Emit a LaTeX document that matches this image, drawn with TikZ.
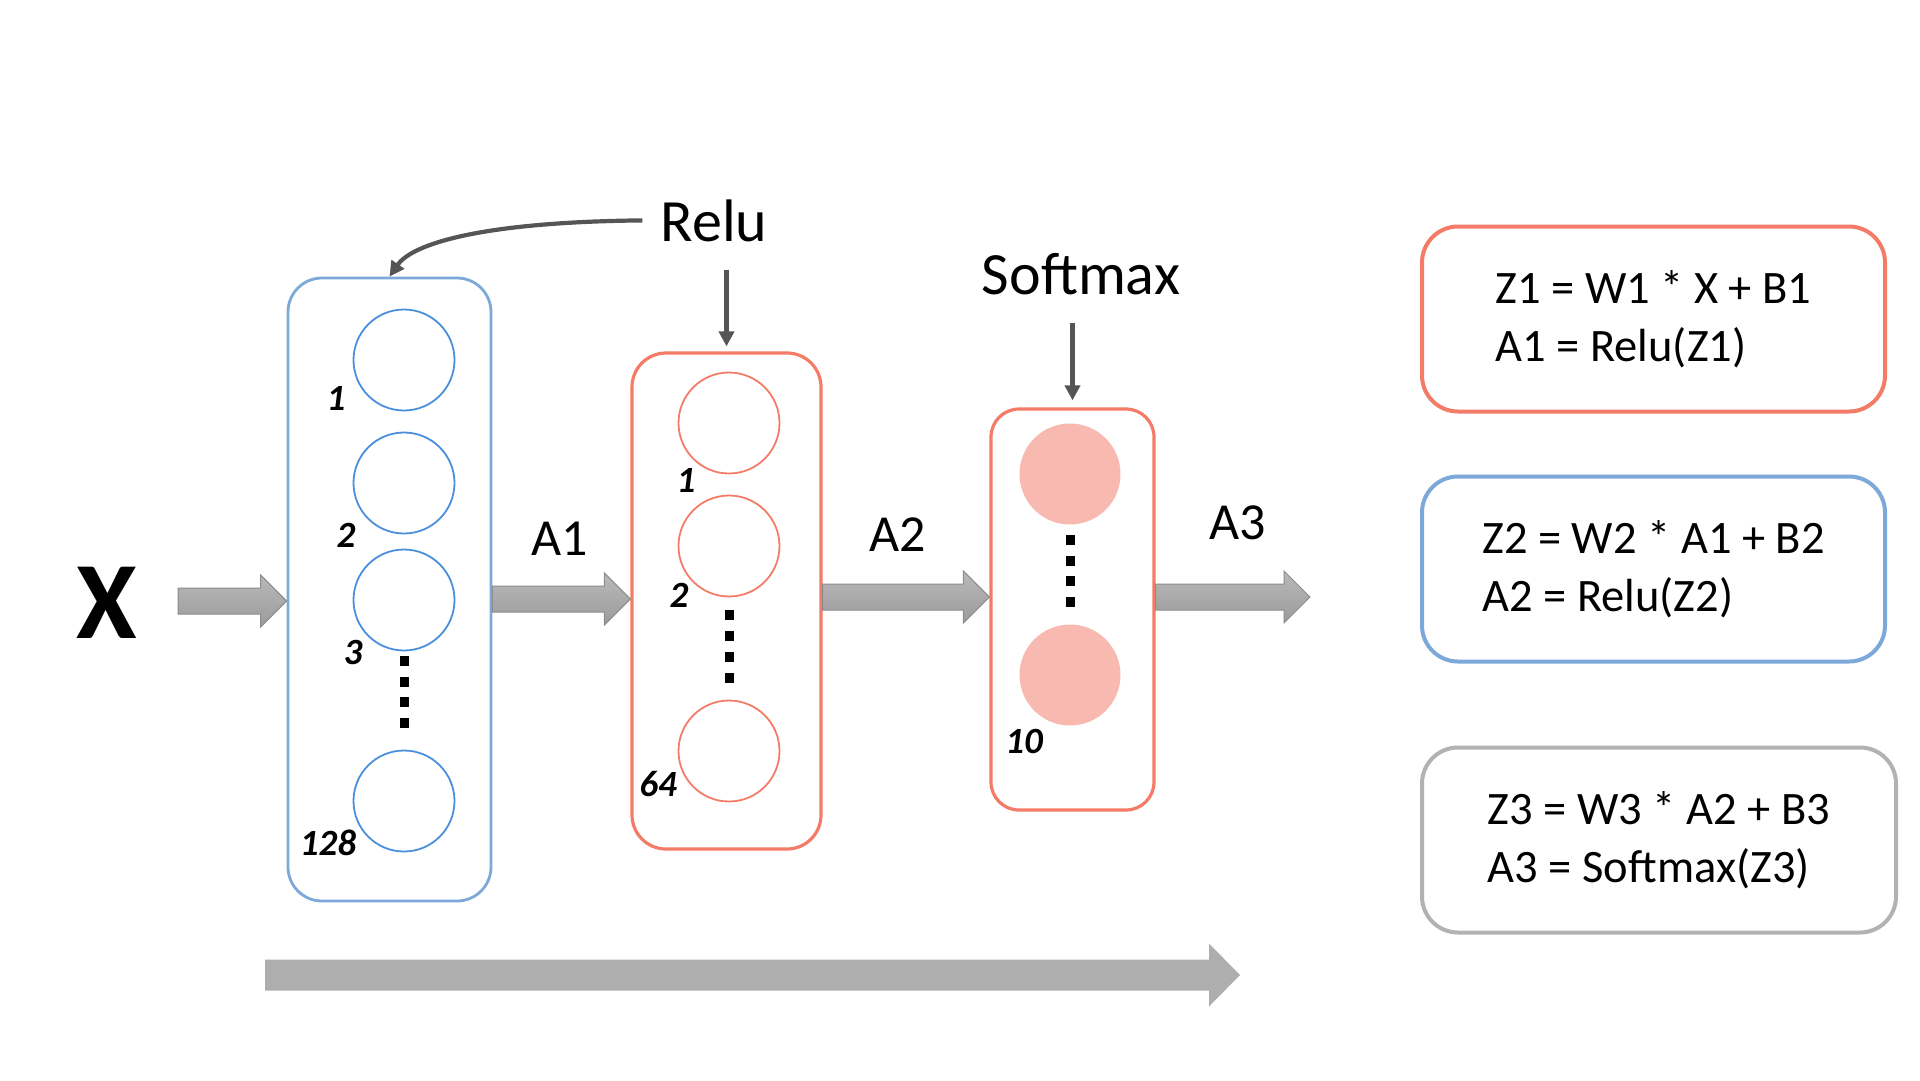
\documentclass[tikz,border=0pt]{standalone}
\usepackage{fontspec}
\setmainfont{Carlito}
\usetikzlibrary{arrows.meta,positioning,calc}

\definecolor{layerblue}{HTML}{7DA8DA}
\definecolor{nodeblue}{HTML}{4A8FDC}
\definecolor{layerred}{HTML}{F47B67}
\definecolor{softfill}{HTML}{F8BAB0}
\definecolor{notegray}{HTML}{555555}
\definecolor{boxgray}{HTML}{B2B2B2}
\definecolor{arrtop}{HTML}{B8B9B8}
\definecolor{arrbot}{HTML}{9A9B9A}
\definecolor{arredge}{HTML}{8C8C8C}
\definecolor{flowgray}{HTML}{ADAEAD}

% block arrow: start node, tip node, height of the axis
\newcommand{\blockarrow}[3]{%
  \path[blockarr] let \p1=(#1), \p2=(#2), \p3=(0,#3) in
    (\x1,\y3+13pt) -- (\x2-26pt,\y3+13pt) -- (\x2-26pt,\y3+26pt) -- (\x2,\y3)
    -- (\x2-26pt,\y3-26pt) -- (\x2-26pt,\y3-13pt) -- (\x1,\y3-13pt) -- cycle;}

\begin{document}
\begin{tikzpicture}[
    x=1pt, y=-1pt,
    layer/.style={rectangle,rounded corners=34pt,line width=2.8pt,inner sep=0pt},
    neuron/.style={circle,draw=nodeblue,line width=1.8pt,minimum size=101pt,inner sep=0pt},
    outnode/.style={circle,fill=softfill,minimum size=101pt,inner sep=0pt},
    idx/.style={font=\fontsize{37}{37}\selectfont\bfseries\itshape,inner sep=0pt},
    title/.style={font=\fontsize{60}{60}\selectfont,inner sep=0pt,anchor=base},
    alabel/.style={font=\fontsize{52}{52}\selectfont,inner sep=0pt,anchor=base},
    eqbox/.style={rectangle,rounded corners=36pt,line width=4pt,align=left,
        minimum width=463pt,minimum height=185pt,font=\fontsize{46.5}{57.5}\selectfont},
    blockarr/.style={draw=arredge,line width=1pt,top color=arrtop,bottom color=arrbot},
    pointer/.style={draw=notegray,line width=4.2pt,-{Triangle[length=15pt,width=15pt]}}
]
\useasboundingbox (0,0) rectangle (1920,1080);

% Layers
\node[layer,draw=layerblue,minimum width=203pt,minimum height=623pt] (L1) at (389.5,589.5) {};
\node[layer,draw=layerred,line width=3.2pt,minimum width=189pt,minimum height=496pt] (L2) at (726.5,601) {};
\node[layer,draw=layerred,line width=3.2pt,rounded corners=28pt,minimum width=163pt,minimum height=401pt] (L3) at (1072.5,609.5) {};

% Neurons
\node[neuron] (b1) at (404,360) {};
\node[neuron] (b2) at (404,483) {};
\node[neuron] (b3) at (404,600) {};
\node[neuron] (b4) at (404,801) {};
\node[neuron,draw=layerred] (r1) at (729,423) {};
\node[neuron,draw=layerred] (r2) at (729,546) {};
\node[neuron,draw=layerred] (r3) at (729,751) {};
\node[outnode] (s1) at (1070,474) {};
\node[outnode] (s2) at (1070,675) {};

% Indices
\node[idx] (nb1) at (336,398) {1};
\node[idx] (nb2) at (346,535) {2};
\node[idx] (nb3) at (353,652) {3};
\node[idx] (nb4) at (328,843) {128};
\node[idx] (nr1) at (686,480) {1};
\node[idx] (nr2) at (679,595) {2};
\node[idx] (nr3) at (658,784) {64};
\node[idx] (ns2) at (1024,741) {10};

% Dots
\foreach \yy in {661,681.5,702,722.5} \fill (399.5,\yy-5) rectangle ++(9,10);
\foreach \yy in {615,636,657,678} \fill (724.5,\yy-5) rectangle ++(9,10);
\foreach \yy in {540,560.5,581,601.5} \fill (1065.5,\yy-5) rectangle ++(9,10);

% Input and flow arrows
\node[font=\fontsize{110}{110}\selectfont\bfseries,inner sep=0pt,anchor=base] (x) at (107,638) {X};
\coordinate (xs) at (178,601);
\coordinate (out) at (1310,597);
\blockarrow{xs}{L1.west}{601}
\blockarrow{L1.east}{L2.west}{599}
\blockarrow{L2.east}{L3.west}{597}
\blockarrow{L3.east}{out}{597}

\node[alabel] (a1) at (560,555) {A1};
\node[alabel] (a2) at (898,551) {A2};
\node[alabel] (a3) at (1238,539) {A3};

% Activations
\node[title] (relu) at (714,241) {Relu};
\node[title] (soft) at (1081,294) {Softmax};
\draw[pointer] ([xshift=-18pt]relu.west) .. controls (480,222) and (412,244) .. (L1.north);
\draw[pointer,shorten <=28pt,shorten >=5pt] (L2.north |- relu.south) -- (L2.north);
\draw[pointer,shorten <=28pt,shorten >=7pt] (L3.north |- soft.south) -- (L3.north);

% Equations
\node[eqbox,draw=layerred] (e1) at (1653.5,319) {Z1 = W1 * X + B1\\A1 = Relu(Z1)};
\node[eqbox,draw=layerblue] (e2) at (1653.5,569) {Z2 = W2 * A1 + B2\\A2 = Relu(Z2)};
\node[eqbox,draw=boxgray,minimum width=474pt] (e3) at (1659,840) {Z3 = W3 * A2 + B3\\A3 = Softmax(Z3)};

% Forward direction
\coordinate (fs) at (265,975);
\coordinate (fe) at (1240,975);
\fill[flowgray] let \p1=(fs), \p2=(fe) in
  (\x1,\y1+15.5pt) -- (\x2-31pt,\y1+15.5pt) -- (\x2-31pt,\y1+31.5pt) -- (\x2,\y1)
  -- (\x2-31pt,\y1-31.5pt) -- (\x2-31pt,\y1-15.5pt) -- (\x1,\y1-15.5pt) -- cycle;

\end{tikzpicture}
\end{document}
